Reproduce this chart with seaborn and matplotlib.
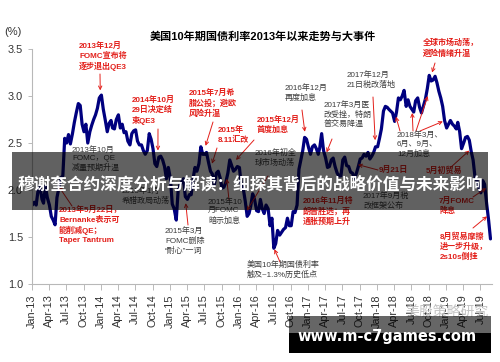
import matplotlib
matplotlib.use('Agg')
from matplotlib import pyplot as plt
import matplotlib.dates as mdates
from matplotlib.patches import Rectangle
import pandas as pd
import seaborn as sns

# 10y yield, three readings per month (around the 3rd, 13th, 23rd)
y2013 = [1.84, 1.87, 1.84, 2.01, 2.03, 1.90, 1.86, 2.04, 1.92, 1.84, 1.72, 1.68,
         1.63, 1.92, 2.02, 2.13, 2.15, 2.55, 2.50, 2.59, 2.49, 2.60, 2.72, 2.82,
         2.92, 2.90, 2.70, 2.62, 2.70, 2.50, 2.62, 2.69, 2.75, 2.80, 2.87, 2.98]
y2014 = [3.01, 2.86, 2.75, 2.62, 2.71, 2.74, 2.66, 2.65, 2.75, 2.80, 2.66, 2.70,
         2.61, 2.62, 2.52, 2.48, 2.60, 2.63, 2.64, 2.52, 2.48, 2.48, 2.42, 2.38,
         2.42, 2.60, 2.54, 2.44, 2.28, 2.25, 2.35, 2.36, 2.32, 2.25, 2.12, 2.24]
y2015 = [2.12, 1.85, 1.80, 1.68, 2.00, 2.06, 2.08, 2.12, 1.93, 1.90, 1.95, 1.95,
         2.12, 2.24, 2.20, 2.28, 2.46, 2.38, 2.38, 2.40, 2.30, 2.20, 2.17, 2.05,
         2.18, 2.20, 2.13, 2.02, 2.03, 2.08, 2.18, 2.32, 2.26, 2.20, 2.22, 2.25]
y2016 = [2.24, 2.05, 2.02, 1.88, 1.72, 1.75, 1.83, 1.96, 1.90, 1.78, 1.77, 1.90,
         1.80, 1.75, 1.84, 1.80, 1.62, 1.70, 1.38, 1.43, 1.57, 1.52, 1.55, 1.58,
         1.60, 1.70, 1.62, 1.62, 1.77, 1.76, 1.84, 2.22, 2.32, 2.42, 2.56, 2.54]
y2017 = [2.45, 2.38, 2.46, 2.48, 2.44, 2.38, 2.45, 2.60, 2.42, 2.34, 2.24, 2.25,
         2.32, 2.34, 2.25, 2.18, 2.15, 2.15, 2.32, 2.35, 2.26, 2.25, 2.19, 2.18,
         2.12, 2.18, 2.25, 2.33, 2.34, 2.38, 2.36, 2.40, 2.33, 2.36, 2.40, 2.46]
y2018 = [2.46, 2.55, 2.65, 2.84, 2.89, 2.88, 2.86, 2.84, 2.82, 2.73, 2.83, 2.98,
         2.96, 3.00, 3.06, 2.89, 2.96, 2.89, 2.86, 2.83, 2.95, 2.98, 2.88, 2.82,
         2.90, 2.97, 3.08, 3.22, 3.16, 3.17, 3.21, 3.14, 3.05, 2.98, 2.89, 2.74]
y2019 = [2.66, 2.70, 2.74, 2.70, 2.68, 2.65, 2.72, 2.62, 2.44, 2.50, 2.56, 2.57,
         2.53, 2.41, 2.32, 2.12, 2.10, 2.02, 1.97, 2.10, 2.06, 1.85, 1.68, 1.48]

yields = y2013 + y2014 + y2015 + y2016 + y2017 + y2018 + y2019
months = pd.date_range('2013-01-01', '2019-08-01', freq='MS')
dates = [m + pd.Timedelta(days=d) for m in months for d in (2, 12, 22)]
df = pd.DataFrame({'date': dates[:len(yields)], 'yield': yields})

RED = '#e3201b'
DARK = '#3c3c3c'

sns.set_style('white')
plt.rcParams['font.family'] = ['Liberation Sans', 'Noto Sans CJK SC']

fig = plt.figure(figsize=(5, 3.62), dpi=100)
ax = fig.add_axes([0.064, 0.2155, 0.92, 0.649])
sns.lineplot(data=df, x='date', y='yield', ax=ax, color='#00007f', linewidth=2.3)

ax.set_xlim(pd.Timestamp('2013-01-01'), pd.Timestamp('2019-08-31'))
ax.set_ylim(1.0, 3.5)
ax.set_yticks([1.0, 1.5, 2.0, 2.5, 3.0, 3.5])
ax.set_yticklabels(['1.0', '1.5', '2.0', '2.5', '3.0', '3.5'])
ax.xaxis.set_major_locator(mdates.MonthLocator(bymonth=[1, 4, 7, 10]))
ax.xaxis.set_major_formatter(mdates.DateFormatter('%b-%y'))
ax.tick_params(axis='x', rotation=90, labelsize=7.8, colors='#333333',
               length=4, width=0.6, color='#b0b0b0', direction='out', bottom=True)
ax.tick_params(axis='y', labelsize=7.8, colors='#333333',
               length=3, width=0.6, color='#b0b0b0', direction='out', left=True)
ax.set_xlabel('')
ax.set_ylabel('')
for s in ['top', 'right']:
    ax.spines[s].set_visible(False)
for s in ['left', 'bottom']:
    ax.spines[s].set_color('#b8b8b8')
    ax.spines[s].set_linewidth(0.8)


def px(x, y):
    return (x / 500, 1 - y / 362)


fig.text(*px(4, 27), '(%)', fontsize=8, color='#333333', va='top')
fig.text(*px(263, 37), '美国10年期国债利率2013年以来走势与大事件', fontsize=8,
         fontweight='bold', color='black', ha='center', va='center')

# (text, left, top, colour)
notes = [
    ('2013年12月\nFOMC宣布将\n逐步退出QE3', 79, 42, RED),
    ('2014年10月\n29日决定结\n束QE3', 132, 96, RED),
    ('2015年7月希\n腊公投；避欧\n风险升温', 189, 89, RED),
    ('2015年\n8.11汇改', 218, 126, RED),
    ('2015年12月\n首度加息', 257, 116, RED),
    ('2016年12月\n再度加息', 285, 84, DARK),
    ('2017年3月医\n改受挫，特朗\n普交易降温', 324, 101, DARK),
    ('2017年12月\n21日税改落地', 347, 71, DARK),
    ('2018年3月、\n6月、9月、\n12月加息', 397, 131, DARK),
    ('全球市场动荡，\n避险情绪升温', 423, 39, RED),
    ('2013年10月\nFOMC，QE\n减量预期升温', 72, 146, DARK),
    ('2016年初全\n球市场动荡', 255, 149, DARK),
    ('5月初贸易', 426, 167, RED),
    ('2015年1月\n希腊政局动荡', 122, 187, DARK),
    ('2013年5月22日，\nBernanke表示可\n能削减QE；\nTaper Tantrum', 59, 206, RED),
    ('2015年10\n月FOMC\n暗示加息', 208, 198, DARK),
    ('2016年11月特\n朗普胜选；再\n通胀预期上升', 303, 197, RED),
    ('2017年9月税\n改框架公布', 363, 192, DARK),
    ('9月21日', 379, 166, RED),
    ('7月FOMC\n降息', 439, 197, RED),
    ('2015年3月\nFOMC删除\n“耐心”一词', 165, 227, DARK),
    ('美国10年期国债利率\n触及~1.3%历史低点', 247, 261, DARK),
    ('8月贸易摩擦\n进一步升级，\n2s10s倒挂', 440, 232, RED),
]
for txt, lx, ty, c in notes:
    fig.text(*px(lx, ty), txt, fontsize=5.8, color=c, va='top', ha='left',
             linespacing=1.3, fontweight='bold' if c == RED else 'normal')

# (tail px x, tail px y, target date, target value, colour)
arrows = [
    (100, 74, '2013-12-28', 3.06, RED),
    (158, 129, '2014-10-29', 2.42, RED),
    (213, 122, '2015-07-08', 2.47, RED),
    (217, 148, '2015-08-11', 2.28, RED),
    (254, 140, '2015-12-16', 2.32, RED),
    (302, 110, '2016-12-14', 2.62, RED),
    (332, 139, '2017-04-08', 2.40, RED),
    (373, 97, '2017-12-21', 2.53, RED),
    (400, 131, '2018-04-10', 2.78, RED),
    (413, 131, '2018-07-05', 2.82, RED),
    (416, 131, '2018-09-25', 3.00, RED),
    (420, 131, '2018-12-14', 2.73, RED),
    (435, 63, '2018-10-18', 3.25, RED),
    (450, 168, '2019-05-03', 2.42, RED),
    (473, 197, '2019-07-31', 2.02, RED),
    (473, 228, '2019-08-05', 1.72, RED),
    (72, 206, '2013-05-22', 2.04, RED),
    (268, 176, '2016-02-11', 1.78, RED),
    (229, 200, '2015-10-28', 2.12, RED),
    (188, 225, '2015-03-25', 1.86, RED),
    (280, 262, '2016-07-06', 1.37, RED),
    (378, 170, '2017-09-21', 2.27, RED),
]
for tx, ty, d, v, c in arrows:
    ax.annotate('', xy=(pd.Timestamp(d), v), xycoords='data',
                xytext=px(tx, ty), textcoords='figure fraction',
                arrowprops=dict(arrowstyle='->', color=c, lw=0.7,
                                mutation_scale=6, shrinkA=0, shrinkB=0))

# watermark
fig.text(*px(405, 312), '美股策略研究', fontsize=10, color='#c4c4c4',
         va='center', ha='left')

# grey title band
fig.add_artist(Rectangle(px(12, 210), 476 / 500, 58 / 362, transform=fig.transFigure,
                         facecolor='black', alpha=0.62, edgecolor='none', zorder=5))
fig.text(*px(250, 185), '穆谢奎合约深度分析与解读：细探其背后的战略价值与未来影响',
         fontsize=12, fontweight='bold', color='white', ha='center', va='center',
         family=['Noto Sans CJK SC', 'DejaVu Sans'], zorder=6)

# site banner
fig.add_artist(Rectangle(px(289, 333), 202 / 500, 17 / 362, transform=fig.transFigure,
                         facecolor='black', alpha=0.6, edgecolor='none', zorder=5))
fig.add_artist(Rectangle(px(289, 353), 202 / 500, 20 / 362, transform=fig.transFigure,
                         facecolor='black', edgecolor='none', zorder=5))
fig.text(*px(387, 336), 'www.m-c7games.com', fontsize=10.5, fontweight='bold',
         color='white', ha='center', va='center', family='DejaVu Sans', zorder=6)

fig.savefig('out.png', dpi=100)
